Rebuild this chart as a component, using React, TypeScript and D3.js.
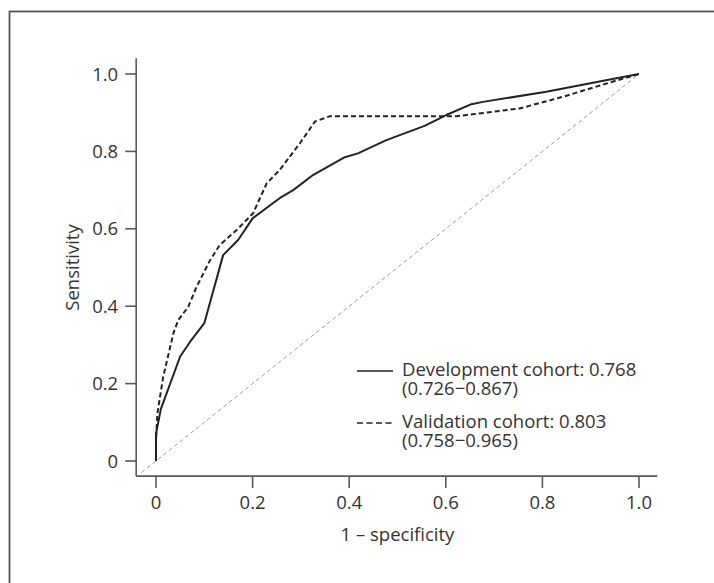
import React, { useEffect, useRef } from 'react';
import * as d3 from 'd3';

// ROC points (1 - specificity, sensitivity)
const devFpr = [0, 0, 0.01, 0.05, 0.07, 0.1, 0.139, 0.17, 0.2, 0.256, 0.284, 0.325, 0.391, 0.418, 0.477, 0.556, 0.601, 0.653, 0.677, 0.808, 0.945, 1.0];
const devTpr = [0, 0.07, 0.134, 0.27, 0.307, 0.356, 0.532, 0.571, 0.627, 0.679, 0.7, 0.739, 0.785, 0.795, 0.829, 0.866, 0.894, 0.922, 0.928, 0.954, 0.987, 1.0];
const valFpr = [0, 0, 0.003, 0.015, 0.036, 0.046, 0.067, 0.084, 0.112, 0.132, 0.167, 0.201, 0.229, 0.256, 0.298, 0.329, 0.36, 0.622, 0.643, 0.753, 0.842, 0.945, 1.0];
const valTpr = [0, 0.054, 0.124, 0.218, 0.33, 0.364, 0.399, 0.45, 0.519, 0.558, 0.597, 0.64, 0.717, 0.752, 0.821, 0.877, 0.891, 0.891, 0.894, 0.911, 0.941, 0.98, 1.0];
const refLine = [-0.03, 1.0];
const ticks = [0, 0.2, 0.4, 0.6, 0.8, 1.0];
const legendLines = [
  ['Development cohort: 0.768', '(0.726\u22120.867)'],
  ['Validation cohort: 0.803', '(0.758\u22120.965)'],
];

export default function App() {
  const svgRef = useRef<SVGSVGElement>(null);

  useEffect(() => {
    const svg = d3.select(svgRef.current);
    svg.selectAll('*').remove();
    const font = '"Open Sans", sans-serif';
    const fs = 18.5;
    const axisCol = '#5a5a5a';
    const textCol = '#333';

    const x = d3.scaleLinear().domain([0, 1]).range([156, 639]);
    const y = d3.scaleLinear().domain([0, 1]).range([461, 74]);
    const x0 = x(-0.041), x1 = x(1.038);
    const y0 = y(-0.039), y1 = y(1.041);

    // outer frame (cropped at right/bottom)
    svg.append('rect').attr('x', 9.5).attr('y', 11.5).attr('width', 900).attr('height', 800)
      .attr('fill', 'none').attr('stroke', '#555').attr('stroke-width', 1.8);

    // axes
    svg.append('line').attr('x1', x0).attr('x2', x1).attr('y1', y0).attr('y2', y0)
      .attr('stroke', axisCol).attr('stroke-width', 1.6);
    svg.append('line').attr('x1', x0).attr('x2', x0).attr('y1', y0).attr('y2', y1)
      .attr('stroke', axisCol).attr('stroke-width', 1.6);

    const fmt = (d: number) => (d === 0 ? '0' : d3.format('.1f')(d));

    const xt = svg.append('g');
    ticks.forEach(t => {
      xt.append('line').attr('x1', x(t)).attr('x2', x(t)).attr('y1', y0).attr('y2', y0 + 12)
        .attr('stroke', axisCol).attr('stroke-width', 1.6);
      xt.append('text').attr('x', x(t)).attr('y', 509).attr('text-anchor', 'middle')
        .style('font-family', font).style('font-size', fs + 'px').attr('fill', textCol).text(fmt(t));
    });
    const yt = svg.append('g');
    ticks.forEach(t => {
      yt.append('line').attr('x1', x0 - 11).attr('x2', x0).attr('y1', y(t)).attr('y2', y(t))
        .attr('stroke', axisCol).attr('stroke-width', 1.6);
      yt.append('text').attr('x', x0 - 18).attr('y', y(t) + 6.6).attr('text-anchor', 'end')
        .style('font-family', font).style('font-size', fs + 'px').attr('fill', textCol).text(fmt(t));
    });

    svg.append('text').attr('x', (x(0) + x(1)) / 2).attr('y', 541).attr('text-anchor', 'middle')
      .style('font-family', font).style('font-size', fs + 'px').attr('fill', textCol).text('1 \u2013 specificity');
    svg.append('text').attr('transform', `translate(79,${(y(0) + y(1)) / 2}) rotate(-90)`).attr('text-anchor', 'middle')
      .style('font-family', font).style('font-size', fs + 'px').attr('fill', textCol).text('Sensitivity');

    // reference diagonal
    svg.append('line').attr('x1', x(refLine[0])).attr('y1', y(refLine[0])).attr('x2', x(refLine[1])).attr('y2', y(refLine[1]))
      .attr('stroke', '#9a9a9a').attr('stroke-width', 1).attr('stroke-dasharray', '4,3');

    const line = d3.line<[number, number]>().x(d => x(d[0])).y(d => y(d[1]));
    const dev = devFpr.map((v, i) => [v, devTpr[i]] as [number, number]);
    const val = valFpr.map((v, i) => [v, valTpr[i]] as [number, number]);

    svg.append('path').attr('d', line(val)).attr('fill', 'none').attr('stroke', '#222')
      .attr('stroke-width', 2).attr('stroke-dasharray', '5,3');
    svg.append('path').attr('d', line(dev)).attr('fill', 'none').attr('stroke', '#222')
      .attr('stroke-width', 2).attr('stroke-linejoin', 'round');

    // legend
    const legY = [371, 423];
    legendLines.forEach((lines, i) => {
      svg.append('line').attr('x1', 357).attr('x2', 393).attr('y1', legY[i]).attr('y2', legY[i])
        .attr('stroke', '#222').attr('stroke-width', 1.6).attr('stroke-dasharray', i === 1 ? '6,3.5' : null);
      lines.forEach((s, j) => {
        svg.append('text').attr('x', 402).attr('y', legY[i] + 4.5 + j * 19.5)
          .style('font-family', font).style('font-size', fs + 'px').attr('fill', textCol).text(s);
      });
    });
  }, []);

  return (
    <svg ref={svgRef} width={714} height={583} style={{ position: 'absolute', left: 0, top: 0, background: '#fff' }} />
  );
}
